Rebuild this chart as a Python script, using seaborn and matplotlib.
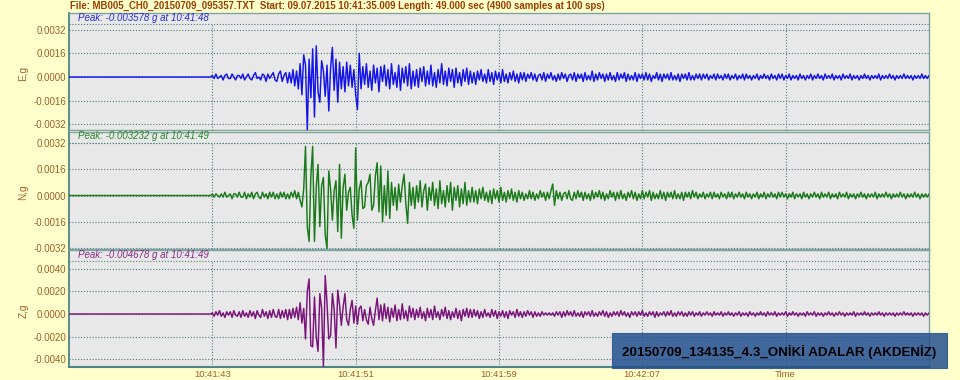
import numpy as np
import pandas as pd
import matplotlib
matplotlib.use("Agg")
import matplotlib.pyplot as plt
import seaborn as sns
from matplotlib.patches import Rectangle
from matplotlib.ticker import FixedLocator, FuncFormatter

# ---------------- data (values in units of 0.0001 g, drawn at 10 samples/s) ----------------
SPS = 10
UNIT = 1e-4

E_g = [
    0, 0, 0, 0, 0, 0, 0, 0, 0, 0, 0, 0, 0, 0, 0, 0, 0, 0, 0, 0,
    0, 0, 0, 0, 0, 0, 0, 0, 0, 0, 0, 0, 0, 0, 0, 0, 0, 0, 0, 0,
    0, 0, 0, 0, 0, 0, 0, 0, 0, 0, 0, 0, 0, 0, 0, 0, 0, 0, 0, 0,
    0, 0, 0, 0, 0, 0, 0, 0, 0, 0, 0, 0, 0, 0, 0, 0, 0, 0, 0, 0,
    1, -1, 2, -1, 0, 1, -2, 1, 2, -1, -1, 2, 0, -2, 1, 1, -1, 2, -2, 0,
    2, -1, -2, 1, 3, -1, 0, -2, 2, 1, -3, 2, -1, 1, 3, -2, -3, 2, 4, -3,
    1, 3, -4,
    3, -4, 5, -6, 4, -8, 9, -12, 15, 8,
    -35.78, 12, -14, 19, -27, 21, -10, -17, 11, 4,
    -13, 8, -23, 6, 20, -9, 12, -17, 10, -8,
    7, -10, 10, -6, 8, -7, 5, -12, -22, 16,
    -8, 7, -5, 9, -7, 4, -9, 8, -4, 6, -10, 7, -3, 8, -6, 5, -8, 9, -5, 3,
    -7, 8, -9, 6, -4, 7, -6, 9, -8, 4,
    -6, 5, -7, 6, -3, 7, -6, 4, -5, 8, -6, 3, -7, 5, -4, 9, -5, 4, -6, 6,
    -3, 5, -7, 6, -4, 3, -6, 5, -3, 6, -5, 4,
    -4, 3, -5, 4, -2, 5, -3, 2, -4, 5, -3, 3, -5, 4, -2, 3, -4, 5, -3, 2,
    -4, 3, -2, 4, -3, 2, -4, 3,
    -2, 3, -3, 2, -1, 3, -2, 2, -3, 1, 2, -2, 3, -3, 2, -1, 3, -2, 1, -3,
    2, -2, 3, -1, 2, -3, 1, 2,
    -2, 3, -3, 2, -1, 2, -3, 3, -2, 1, -2, 4, -3, 2, -2, 3, -1, 2, -3, 2,
    -2, 3, -2, 1, -3, 3, -2, 2, -1, 3, -3, 2, -2, 1, -2, 3, -3, 2, -1, 2,
    -2, 3, -2, 2, -3, 1, -1, 3, -2, 2, -3, 2, -1, 2, -2, 3, -2, 1, -2, 2,
    -3, 2, -1, 2, -2, 3, -2, 1, -2, 2, -1, 2,
    -2, 2, -1, 2, -2, 1, -1, 2, -2, 2, -1, 1, -2, 2, -1, 2, -2, 1, -1, 2,
    -2, 1, -1, 2, -2, 2, -1, 1, -2, 1, -1, 2, -2, 1, -1, 2, -1, 1, -2, 2,
    -1, 1, -2, 2, -1, 2, -2, 1, -1, 2, -2, 1, -1, 1, -2, 2, -1, 1, -2, 1,
    -1, 2, -2, 1, -1, 2, -1, 1, -2, 2, -1, 1, -1, 2, -2, 1, -1, 1, -2, 2,
    -1, 1, -1, 2, -2, 1, -1, 1, -2, 1, -1, 2, -1, 1, -2, 1, -1, 1, -1, 2,
    -2, 1, -1, 1, -1, 2, -1, 1, -2, 1, -1, 1, -1, 2, -1, 1, -1, 1, -2, 1,
    -1, 1, -1, 2, -1, 1, -1, 1,
]

N_g = [
    0, 0, 0, 0, 0, 0, 0, 0, 0, 0, 0, 0, 0, 0, 0, 0, 0, 0, 0, 0,
    0, 0, 0, 0, 0, 0, 0, 0, 0, 0, 0, 0, 0, 0, 0, 0, 0, 0, 0, 0,
    0, 0, 0, 0, 0, 0, 0, 0, 0, 0, 0, 0, 0, 0, 0, 0, 0, 0, 0, 0,
    0, 0, 0, 0, 0, 0, 0, 0, 0, 0, 0, 0, 0, 0, 0, 0, 0, 0, 0, 0,
    1, -1, 1, 0, -1, 1, -1, 2, -1, 0, 1, -2, 1, 1, -1, 2, -1, -1, 2, -2,
    1, -1, 2, -2, 1, 2, -1, -2, 2, -1, 1, -2, 2, -1, 2, -2, 1, -2, 2, -1,
    2, -2, 1,
    -2, 2, -1, 3, -2, 2, -3, -7, 4, 30,
    -19, -28, 12, 30, -28, 5, 19, -19, 6, 11,
    -24, -32.32, 15, 4, -15, 3, 9, -22, 19, -26,
    5, 13, -9, 2, 5, -12, -20, 29, -15, 4,
    9, -8, -7, 6, 8, 13, -9, -6, 12, 20, -10, 18, -16, 6, -12, 15, -14, 8, -6, 5,
    -9, 7, -4, 6, 13, -5, -17, 8, -6, 5,
    -8, 6, -4, 9, -7, 3, 7, -9, 5, -3, 8, -6, 4, -8, 9, -5, 3, -7, 6, -4,
    8, -9, 5, -3, 6, -7, 4, -5, 8, -6, 3, -4,
    5, -4, 3, -5, 4, -2, 5, -3, 2, -4, 3, -5, 4, -2, 3, -4, 5, -3, 2, -4,
    3, -2, 4, -3, 2, -4, 3, -2,
    2, -3, 1, -2, 3, -2, 2, -3, 1, -2, 3, -1, 2, -3, 2, -2, 3, 7, -6, 3,
    -2, 2, -3, 1, 2, -2, 3, -2,
    -3, 2, -2, 3, -1, 2, -3, 2, -2, 1, -3, 3, -2, 2, -1, 3, -2, 2, -3, 1,
    -2, 3, -1, 2, -3, 2, -2, 3, -2, 1, -3, 2, -1, 3, -2, 2, -3, 1, -2, 3,
    -2, 2, -1, 3, -3, 2, -2, 1, -2, 3, -2, 2, -3, 2, -1, 2, -2, 3, -2, 1,
    -2, 2, -3, 2, -1, 2, -2, 3, -1, 2, -2, 1,
    -1, 2, -2, 1, -1, 2, -2, 2, -1, 1, -2, 2, -1, 1, -2, 2, -1, 2, -2, 1,
    -1, 2, -1, 1, -2, 2, -1, 1, -2, 1, -1, 2, -2, 1, -1, 2, -2, 1, -1, 2,
    -1, 1, -2, 2, -1, 2, -1, 1, -2, 1, -1, 2, -2, 1, -1, 1, -2, 2, -1, 1,
    -2, 1, -1, 2, -1, 1, -2, 2, -1, 1, -1, 2, -2, 1, -1, 1, -2, 2, -1, 1,
    -1, 2, -2, 1, -1, 1, -2, 1, -1, 2, -1, 1, -2, 1, -1, 1, -1, 2, -2, 1,
    -1, 1, -1, 2, -1, 1, -2, 1, -1, 1, -1, 2, -1, 1, -2, 1, -1, 1, -1, 2,
    -1, 1, -2, 1, -1, 1, -1, 1,
]

Z_g = [
    0, 0, 0, 0, 0, 0, 0, 0, 0, 0, 0, 0, 0, 0, 0, 0, 0, 0, 0, 0,
    0, 0, 0, 0, 0, 0, 0, 0, 0, 0, 0, 0, 0, 0, 0, 0, 0, 0, 0, 0,
    0, 0, 0, 0, 0, 0, 0, 0, 0, 0, 0, 0, 0, 0, 0, 0, 0, 0, 0, 0,
    0, 0, 0, 0, 0, 0, 0, 0, 0, 0, 0, 0, 0, 0, 0, 0, 0, 0, 0, 0,
    1, -2, 2, -1, 3, -2, 1, -3, 2, -1, 2, -3, 3, -1, -2, 2, -3, 3, -2, 1,
    -3, 3, -2, 2, -4, 3, -1, -3, 4, -2, 2, -4, 3, -3, 4, -2, -3, 4, -4, 3,
    -3, 4, -5,
    4, -4, 5, -3, 6, -5, 10, -8, 5, -22,
    20, 31, -28, -29, 15, -20, -33, 18, 5, -46.78,
    34, 10, -22, -19, 18, 4, -30, 21, 8, -10,
    6, 18, -5, -10, 4, 12, -8, 7, -9, 5,
    7, -6, 4, -5, -9, 6, -4, -10, 3, 14, -5, 8, -6, 9, -4, 6, -7, 5, -3, 8,
    -6, 4, -5, 9, -4, 3, -6, 7, -3, 5,
    -5, 4, -3, 6, -4, 2, -6, 5, -3, 4, -5, 7, -3, 2, -5, 4, -2, 6, -4, 3,
    -5, 2, -3, 5, -4, 3, -6, 4, -2, 5, -3, 4,
    -3, 4, -2, 3, -4, 2, -3, 4, -2, 1, -3, 4, -2, 3, -4, 2, -2, 3, -3, 2,
    -4, 3, -1, 2, -3, 4, -2, 2,
    -3, 2, -2, 3, -1, 2, -3, 2, -2, 1, -2, 2, -1, 1, -1, 1, -1, 1, -2, 2,
    -1, 2, -3, 2, -2, 3, -1, 2,
    -2, 3, -2, 1, -2, 2, -3, 2, -1, 2, -2, 3, -2, 1, -2, 2, -1, 3, -2, 2,
    -3, 1, -2, 2, -1, 2, -2, 3, -1, 2, -2, 1, -3, 2, -1, 2, -2, 2, -1, 3,
    -2, 1, -2, 2, -1, 2, -3, 2, -2, 1, -1, 2, -2, 2, -1, 3, -2, 1, -2, 2,
    -1, 2, -2, 1, -2, 2, -1, 2, -2, 1, -1, 2,
    -2, 1, -1, 2, -1, 1, -2, 2, -1, 1, -1, 2, -2, 1, -1, 2, -1, 1, -2, 1,
    -1, 2, -2, 1, -1, 1, -2, 2, -1, 1, -2, 1, -1, 2, -1, 1, -2, 2, -1, 1,
    -1, 2, -2, 1, -1, 1, -1, 2, -2, 1, -1, 2, -1, 1, -2, 1, -1, 1, -2, 2,
    -1, 1, -1, 2, -2, 1, -1, 1, -2, 1, -1, 2, -1, 1, -2, 1, -1, 2, -1, 1,
    -2, 1, -1, 1, -1, 2, -2, 1, -1, 1, -1, 2, -1, 1, -2, 1, -1, 1, -1, 2,
    -1, 1, -2, 1, -1, 1, -1, 1, -2, 1, -1, 1, -1, 2, -1, 1, -1, 1, -2, 1,
    -1, 1, -1, 1, -2, 1, -1, 1,
]

channels = ["E,g", "N,g", "Z,g"]
peaks = [-0.003578, -0.003232, -0.004678]
peak_times = ["10:41:48", "10:41:49", "10:41:49"]
major_steps = [0.0016, 0.0016, 0.0020]
tick_seconds = [7.991, 15.991, 23.991, 31.991, 39.991]
tick_labels = ["10:41:43", "10:41:51", "10:41:59", "10:42:07", "Time"]
header = ("File: MB005_CH0_20150709_095357.TXT  Start: 09.07.2015 10:41:35.009 "
          "Length: 49.000 sec (4900 samples at 100 sps)")
event = "20150709_134135_4.3_ONİKİ ADALAR (AKDENİZ)"

# ---------------- styles ----------------
sns.set_style("white")
plt.rcParams["font.family"] = ["Liberation Sans", "DejaVu Sans"]

trace_colors = ["#1414e6", "#1a7a1a", "#7a147a"]
peak_colors = ["#2a2ad8", "#2a862a", "#862a86"]
FIG_BG = "#FFFFCC"
AX_BG = "#E8E8E8"
TEAL = "#4f8585"
GRID = "#4f7c7c"
TICK_TXT = "#A0602A"
HEAD_TXT = "#9A3C00"

fig = plt.figure(figsize=(9.6, 3.8), dpi=100, facecolor=FIG_BG)
W, H = 960.0, 380.0
left, width = 69 / W, 860 / W
panel_tops = [13, 131.5, 250]
panel_h = 117.0
head_px = 11.0
data_px = panel_h - head_px

for k, (vals, ch) in enumerate(zip([E_g, N_g, Z_g], channels)):
    top = panel_tops[k]
    ax = fig.add_axes([left, 1 - (top + panel_h) / H, width, panel_h / H])
    ax.set_facecolor(AX_BG)
    P = abs(peaks[k])
    head = 2 * P * head_px / data_px

    df = pd.DataFrame({"t": np.arange(len(vals)) / SPS,
                       "g": np.asarray(vals, dtype=float) * UNIT})
    sns.lineplot(data=df, x="t", y="g", ax=ax, color=trace_colors[k],
                 linewidth=1.05, estimator=None, sort=False, zorder=3)

    ax.set_xlim(0, 48)
    ax.set_ylim(-P, P + head)

    step = major_steps[k]
    majors = [m * step for m in range(-5, 6) if abs(m * step) <= P + 1e-12]
    minors = [m * 0.0004 for m in range(-20, 21) if abs(m * 0.0004) <= P + 1e-12]
    ax.yaxis.set_major_locator(FixedLocator(majors))
    ax.yaxis.set_minor_locator(FixedLocator(minors))
    ax.yaxis.set_major_formatter(FuncFormatter(lambda v, p: f"{v:.4f}" if abs(v) > 1e-12 else "0.0000"))
    ax.set_xticks(tick_seconds)

    for y in majors + [P]:
        ax.axhline(y, color=GRID, linestyle=(0, (1, 1.6)), linewidth=0.8, zorder=1)
    for x in tick_seconds:
        ax.axvline(x, ymin=0, ymax=data_px / panel_h, color=GRID,
                   linestyle=(0, (1, 1.6)), linewidth=0.8, zorder=1)

    ax.tick_params(axis="y", which="both", direction="in", color=TEAL,
                   labelcolor=TICK_TXT, labelsize=7, pad=2, width=0.8)
    ax.tick_params(axis="y", which="major", length=5)
    ax.tick_params(axis="y", which="minor", length=4)
    ax.tick_params(axis="x", which="major", direction="in", length=6, width=1.5,
                   color=TEAL, labelcolor=TICK_TXT, labelsize=6.8, pad=2)
    if k < 2:
        ax.tick_params(axis="x", labelbottom=False)
        ax.set_xticklabels([])
    else:
        ax.set_xticklabels(tick_labels)

    ax.set_xlabel("")
    ax.set_ylabel(ch, fontsize=7.2, color=TICK_TXT)
    ax.yaxis.set_label_coords(-0.047, 0.48)

    for side in ["top", "right", "bottom"]:
        ax.spines[side].set_color("#7fa3a3")
        ax.spines[side].set_linewidth(1.0)
    ax.spines["left"].set_color(TEAL)
    ax.spines["left"].set_linewidth(1.3)
    if k == 2:
        ax.spines["bottom"].set_color(TEAL)
        ax.spines["bottom"].set_linewidth(1.5)

    ax.text(0.0105, 1 - 4.8 / panel_h,
            f"Peak: {peaks[k]:.6f} g at {peak_times[k]}",
            transform=ax.transAxes, ha="left", va="center", fontsize=7,
            style="italic", color=peak_colors[k])

fig.text(70 / W, 1 - 5.5 / H, header, ha="left", va="center",
         fontsize=6.95, fontweight="bold", color=HEAD_TXT)

box = Rectangle((612 / W, 1 - 368 / H), 335 / W, 35 / H, transform=fig.transFigure,
                facecolor="#24528f", alpha=0.85, edgecolor="#24528f",
                linewidth=0.8, zorder=10)
fig.patches.append(box)
fig.text(779 / W, 1 - 352 / H, event, ha="center", va="center", fontsize=9.6,
         fontweight="bold", color="black", zorder=11)

fig.savefig("out.png", dpi=100, facecolor=FIG_BG)
